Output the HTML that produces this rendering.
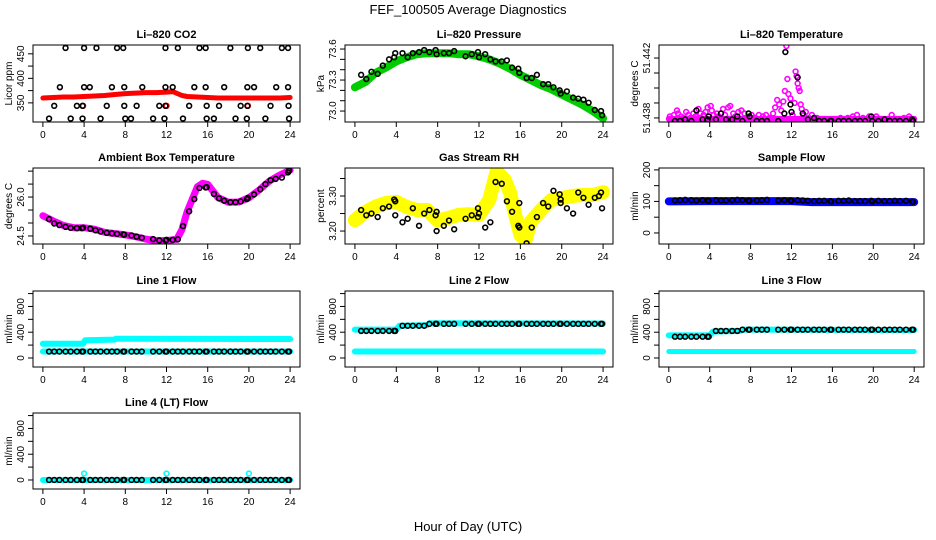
<!DOCTYPE html>
<html><head><meta charset="utf-8"><style>
body{margin:0;background:#fff}
svg{display:block;font-family:"Liberation Sans",sans-serif}
</style></head><body>
<svg id="chart" width="936" height="540" viewBox="0 0 936 540" xmlns="http://www.w3.org/2000/svg">
<rect width="936" height="540" fill="#fff"/>
<text x="468" y="14" text-anchor="middle" font-size="13">FEF_100505  Average Diagnostics</text>
<text x="468" y="531" text-anchor="middle" font-size="13">Hour of Day (UTC)</text>
</svg>
<script>
// ---- shared data ----
const xTicks = [0,4,8,12,16,20,24];
const blkHours = [0.6,1.1,1.6,2.2,2.7,3.3,3.8,3.9,4.6,5.1,5.6,6.2,6.7,7.2,7.8,7.9,8.6,9.1,9.6,10.7,11.3,11.9,12.0,12.6,13.1,13.6,14.2,14.7,15.2,15.8,15.9,16.6,17.1,17.6,18.2,18.7,19.2,19.8,19.9,20.5,21.1,21.6,22.1,22.6,23.2,23.8,23.9];

// CO2
const co2LineH = [0,1,2,3,4,5,6,7,8,9,10,11,12,12.6,13.5,14,15,16,17,18,19,20,21,22,23,24];
const co2LineV = [360,361,362,362,363,364,365,367,369,370,371,371,372,373,365,363,362,361,360,360,360,360,360,360,360,361];
const co2BlkH = [2.2,4.0,5.2,7.2,7.8,11.9,13.1,15.2,15.8,18.2,19.9,21.1,23.2,23.8,
 1.65,4.0,4.55,6.7,7.9,9.65,11.9,12.6,14.7,15.8,17.6,19.85,20.5,22.65,23.8,
 1.1,3.3,3.85,6.2,7.9,9.1,11.3,11.9,14.2,15.9,17.1,19.2,19.85,22.1,23.85,
 0.6,2.7,3.85,5.6,8.0,8.55,10.7,11.8,13.6,15.9,16.6,18.7,19.8,21.6,23.9];
const co2BlkV = [462,462,462,462,462,462,462,462,462,462,462,462,462,462,
 382,382,382,382,382,382,382,382,382,382,382,382,382,382,382,
 344,344,344,344,344,344,344,344,344,344,344,344,344,344,344,
 318,318,318,318,318,318,318,318,318,318,318,318,318,318,318];
const co2RedPtsH = [3.9,12.0,19.9];
const co2RedPtsV = [344,344,344];

// Pressure
const presLineH = [0,1,2,3,4,5,6,7,8,9,10,11,12,13,14,15,16,17,18,19,20,21,22,23,24];
const presLineV = [73.23,73.28,73.37,73.42,73.48,73.52,73.55,73.56,73.56,73.56,73.55,73.55,73.53,73.5,73.46,73.41,73.35,73.3,73.25,73.21,73.16,73.11,73.06,73.0,72.93];
const presBlkV = [73.35,73.31,73.38,73.36,73.44,73.5,73.52,73.56,73.56,73.52,73.56,73.57,73.59,73.57,73.59,73.55,73.56,73.56,73.58,73.53,73.55,73.57,73.52,73.55,73.5,73.48,73.48,73.49,73.42,73.41,73.37,73.32,73.32,73.35,73.26,73.26,73.23,73.2,73.17,73.19,73.13,73.12,73.11,73.08,73.01,73.0,72.96];

// Li-820 temperature
const tempMagH = [0.1,0.3,0.5,0.8,0.9,1.2,1.4,1.7,1.9,2.1,2.4,2.6,2.9,3.1,3.4,3.6,3.8,4.1,4.2,4.4,4.7,4.9,5.3,5.5,5.8,6.0,6.3,6.5,6.8,7.1,7.4,7.6,8.1,8.4,8.8,9.2,9.5,9.9,10.2,10.4,10.6,10.8,11.0,11.2,11.35,11.5,11.6,11.7,11.9,12.1,12.3,12.4,12.5,12.6,12.7,12.8,12.9,13.0,13.2,13.4,13.7,14.0,14.5,15.0,16.0,16.8,17.5,18.0,18.4,19.0,19.6,20.3,21.0,21.8,22.5,23.0,23.5,23.9];
const tempMagV = [51.4381,51.4379,51.4382,51.4385,51.4383,51.4381,51.4380,51.4384,51.4382,51.4380,51.4383,51.4381,51.4386,51.4383,51.4382,51.4384,51.4387,51.4388,51.4385,51.4382,51.4383,51.4381,51.4386,51.4382,51.4387,51.4388,51.4383,51.4381,51.4384,51.4385,51.4383,51.4380,51.4382,51.4380,51.4382,51.4381,51.4382,51.4380,51.4383,51.4387,51.4392,51.4389,51.4385,51.4391,51.4398,51.4428,51.4406,51.4396,51.4393,51.4382,51.4390,51.4411,51.4408,51.4403,51.4400,51.4398,51.4389,51.4386,51.4382,51.4384,51.4380,51.4382,51.4380,51.4379,51.4379,51.4380,51.4380,51.4381,51.4382,51.4380,51.4381,51.4381,51.4379,51.4382,51.4379,51.4380,51.4381,51.4379];
const tempBandH = [0,24];
const tempBandV = [51.43794,51.43794];
const tempBlkH = blkHours.concat([11.4]);
const tempBlkV = [51.4378,51.4378,51.4379,51.4378,51.4385,51.4379,51.4379,51.4381,51.4379,51.4383,51.4379,51.4379,51.4381,51.4378,51.4383,51.4381,51.4378,51.4378,51.4378,51.4378,51.4383,51.4389,51.4384,51.4407,51.4383,51.4379,51.4380,51.4378,51.4378,51.4378,51.4378,51.4378,51.4378,51.4378,51.4378,51.4378,51.4378,51.4381,51.4378,51.4378,51.4379,51.4378,51.4378,51.4378,51.4378,51.4379,51.4378,51.4424];

// Ambient box temperature
const ambLineH = [0,1,2,3,4,5,6,7,8,9,10,11,12,13,13.5,14,15,15.5,16,17,18,19,20,21,22,23,24];
const ambLineV = [25.28,25.08,24.9,24.82,24.82,24.76,24.64,24.59,24.54,24.47,24.38,24.32,24.32,24.37,24.75,25.43,26.4,26.53,26.49,25.98,25.8,25.81,25.97,26.27,26.62,26.85,27.04];
const ambBlkV = [25.15,24.98,24.92,24.85,24.81,24.8,24.8,24.82,24.78,24.72,24.67,24.62,24.6,24.58,24.56,24.55,24.52,24.47,24.43,24.38,24.33,24.33,24.35,24.35,24.37,24.88,25.45,25.92,26.35,26.37,26.38,26.12,25.95,25.86,25.8,25.8,25.83,25.92,25.97,26.1,26.3,26.5,26.65,26.7,26.75,26.95,27.02];

// Gas stream RH
const rhLineH = [0,1,2,3,4,5,6,7,8,9,10,11,12,13,13.7,14.5,15,15.5,16,16.5,17,18,19,20,21,22,23,24];
const rhLineV = [3.231,3.254,3.27,3.28,3.283,3.269,3.26,3.26,3.23,3.237,3.246,3.248,3.246,3.289,3.37,3.346,3.31,3.246,3.189,3.174,3.226,3.26,3.289,3.294,3.3,3.303,3.303,3.311];
const rhBlkH = [0.6,1.1,1.6,2.2,2.7,3.3,3.8,3.9,3.9,4.6,5.1,5.6,6.2,6.7,7.2,7.8,7.9,7.9,8.6,9.1,9.6,10.7,11.3,11.9,11.9,12.0,12.6,13.1,13.6,14.2,14.7,15.2,15.8,15.9,15.9,16.6,17.1,17.6,18.2,18.7,19.2,19.8,19.9,19.9,20.5,21.1,21.6,22.1,22.6,23.2,23.6,23.8,23.9];
const rhBlkV = [3.26,3.245,3.25,3.24,3.265,3.27,3.29,3.285,3.245,3.225,3.235,3.265,3.215,3.25,3.26,3.245,3.255,3.2,3.215,3.23,3.205,3.235,3.245,3.24,3.265,3.25,3.21,3.225,3.34,3.335,3.285,3.255,3.215,3.21,3.28,3.165,3.21,3.24,3.28,3.27,3.315,3.305,3.29,3.28,3.265,3.25,3.31,3.295,3.275,3.295,3.3,3.31,3.265];

// Sample flow
const sfLineH = [0,4,8,12,14,16,18,20,24];
const sfLineV = [100,101,101,101,98,98,98,98,98];
const sfBlkV = [103,104,105,104,103,104,103,102,104,103,103,104,105,104,103,102,103,104,105,103,104,103,102,104,103,102,101,102,102,101,100,102,102,103,101,101,101,102,100,102,101,101,102,101,102,100,99];

// Line flows
const l1UpH = [0,3.9,4.1,6.9,7.1,24];
const l1UpV = [220,222,275,285,300,295];
const lowH = [0,24];
const lowV = [100,100];
const l1BlkV = [100,100,100,100,100,100,100,100,100,100,100,100,100,100,100,100,100,100,100,100,100,100,100,100,100,100,100,100,100,100,100,100,100,100,100,100,100,100,100,100,100,100,100,100,100,100,100];
const l2UpH = [0,4,4.3,7,7.2,24];
const l2UpV = [440,440,500,510,540,535];
const l2BlkV = [420,420,420,420,420,420,420,420,500,500,500,500,500,530,530,530,530,530,530,530,530,530,530,530,530,530,530,530,530,530,530,530,530,530,530,530,530,530,530,530,530,530,530,530,530,530,530];
const l3UpH = [0,4,4.3,7,7.3,24];
const l3UpV = [350,350,410,420,440,435];
const l3BlkV = [330,330,330,330,330,330,330,330,420,420,420,420,420,440,440,440,440,440,440,440,440,440,440,440,440,440,440,440,440,440,440,440,440,440,440,440,440,440,440,440,440,440,440,440,440,440,440];
const l4LineH = [0,24];
const l4LineV = [0,0];
const l4BlkV = [0,0,0,0,0,0,0,0,0,0,0,0,0,0,0,0,0,0,0,0,0,0,0,0,0,0,0,0,0,0,0,0,0,0,0,0,0,0,0,0,0,0,0,0,0,0,0];
const l4CyanH = [4,12,20];
const l4CyanV = [100,100,100];

// ---- drawing ----
const NS = "http://www.w3.org/2000/svg";
const svg = document.getElementById("chart");
const colL = [33,345,659], colR = [300,613,924];
const rowT = [45,168,291,413], rowB = [122,244,367,489];
function mk(tag, attrs, parent){ const e=document.createElementNS(NS,tag); for(const k in attrs) e.setAttribute(k,attrs[k]); (parent||svg).appendChild(e); return e; }

function panel(slug, row, col, title, ylab, ymin, ymax, yticks, ylabels){
  const g = mk("g",{});
  
  
  const L=colL[col], R=colR[col], T=rowT[row], B=rowB[row];
  const xmin=-0.96, xmax=24.96;
  const sx = h => L + (h-xmin)/(xmax-xmin)*(R-L);
  const sy = v => B - (v-ymin)/(ymax-ymin)*(B-T);
  const clipId = 'clip-'+slug;
  const cp = mk("clipPath",{id:clipId},g); mk("rect",{x:L,y:T,width:R-L,height:B-T},cp);
  const plot = mk("g",{"clip-path":"url(#"+clipId+")"},g);
  
  
  const box = mk("rect",{x:L,y:T,width:R-L,height:B-T,fill:"none",stroke:"#000","stroke-width":1},g);
  
  
  const t = mk("text",{x:(L+R)/2,y:T-7,"text-anchor":"middle","font-size":11,"font-weight":"bold"},g);
  t.textContent = title;
  
  
  const xa = mk("g",{stroke:"#000","stroke-width":1},g);
  
  
  mk("line",{x1:sx(xTicks[0]),x2:sx(xTicks[xTicks.length-1]),y1:B,y2:B},xa);
  xTicks.forEach(v=>{
    mk("line",{x1:sx(v),x2:sx(v),y1:B,y2:B+5},xa);
    const tl = mk("text",{x:sx(v),y:B+16,"text-anchor":"middle","font-size":10,stroke:"none",fill:"#000"},xa);
    tl.textContent = v;
    
    
  });
  const ya = mk("g",{stroke:"#000","stroke-width":1},g);
  
  
  mk("line",{x1:L,x2:L,y1:sy(yticks[0]),y2:sy(yticks[yticks.length-1])},ya);
  yticks.forEach((v,i)=>{
    const y=sy(v);
    mk("line",{x1:L-5,x2:L,y1:y,y2:y},ya);
    if(ylabels[i]!==""){
      const tl = mk("text",{x:L-9,y:y,"text-anchor":"middle","font-size":10,stroke:"none",fill:"#000",transform:"rotate(-90 "+(L-9)+" "+y+")"},ya);
      tl.textContent = ylabels[i];
      
      
    }
  });
  const yl = mk("text",{x:L-21,y:(T+B)/2,"text-anchor":"middle","font-size":10,transform:"rotate(-90 "+(L-21)+" "+((T+B)/2)+")"},g);
  yl.textContent = ylab;
  
  
  return {sx,sy,plot};
}
function band(p, hs, vs, color, w, name){
  const n=Math.min(hs.length,vs.length);
  const pts=[]; for(let i=0;i<n;i++) pts.push(p.sx(hs[i]).toFixed(1)+","+p.sy(vs[i]).toFixed(1));
  const pl = mk("polyline",{points:pts.join(" "),fill:"none",stroke:color,"stroke-width":w,"stroke-linejoin":"round","stroke-linecap":"round"},p.plot);
  
  
}
function pts(p, hs, vs, color, name, r){
  const n=Math.min(hs.length,vs.length);
  const g = mk("g",{fill:"none",stroke:color,"stroke-width":1.6},p.plot);
  
  
  for(let i=0;i<n;i++){
    const c = mk("circle",{cx:p.sx(hs[i]),cy:p.sy(vs[i]),r:r||2.4},g);
    
    
  }
}
const flowTicks=[0,200,400,600,800,1000], flowLabels=["0","","400","","800",""];

let p;
p = panel("co2",0,0,"Li\u2013820 CO2","Licor ppm",311,468,[350,375,400,425,450],["350","","400","","450"]);
band(p,co2LineH,co2LineV,"#ff0000",5,"co2-red-series");
pts(p,co2RedPtsH,co2RedPtsV,"#ff0000","co2-red-points");
pts(p,co2BlkH,co2BlkV,"#000","co2-black-points");

p = panel("pressure",0,1,"Li\u2013820 Pressure","kPa",72.894,73.639,[73.0,73.1,73.2,73.3,73.4,73.5,73.6],["73.0","","","73.3","","","73.6"]);
band(p,presLineH,presLineV,"#00cc00",8,"pressure-green-series");
pts(p,blkHours,presBlkV,"#000","pressure-black-points");

p = panel("li820-temp",0,2,"Li\u2013820 Temperature","degrees C",51.43773,51.44287,[51.438,51.439,51.440,51.441,51.442],["51.438","","","","51.442"]);
band(p,tempBandH,tempBandV,"#ff00ff",6,"temp-magenta-band");
pts(p,tempMagH,tempMagV,"#ff00ff","temp-magenta-points");
pts(p,tempBlkH,tempBlkV,"#000","temp-black-points");

p = panel("ambient",1,0,"Ambient Box Temperature","degrees C",24.19,27.12,[24.5,25.0,25.5,26.0,26.5,27.0],["24.5","","","26.0","",""]);
band(p,ambLineH,ambLineV,"#ff00ff",7,"ambient-magenta-series");
pts(p,blkHours,ambBlkV,"#000","ambient-black-points");

p = panel("gas-rh",1,1,"Gas Stream RH","percent",3.163,3.38,[3.20,3.25,3.30,3.35],["3.20","","3.30",""]);
band(p,rhLineH,rhLineV,"#ffff00",14,"rh-yellow-series");
pts(p,rhBlkH,rhBlkV,"#000","rh-black-points");

p = panel("sample-flow",1,2,"Sample Flow","ml/min",-35,206,[0,50,100,150,200],["0","","100","","200"]);
band(p,sfLineH,sfLineV,"#0000ff",8,"sample-flow-blue-series");
pts(p,blkHours,sfBlkV,"#000","sample-flow-black-points");

p = panel("line1-flow",2,0,"Line 1 Flow","ml/min",-140,1040,flowTicks,flowLabels);
band(p,l1UpH,l1UpV,"#00ffff",6,"line1-cyan-upper");
band(p,lowH,lowV,"#00ffff",6,"line1-cyan-lower");
pts(p,blkHours,l1BlkV,"#000","line1-black-points");

p = panel("line2-flow",2,1,"Line 2 Flow","ml/min",-140,1040,flowTicks,flowLabels);
band(p,l2UpH,l2UpV,"#00ffff",6,"line2-cyan-upper");
band(p,lowH,lowV,"#00ffff",6,"line2-cyan-lower");
pts(p,blkHours,l2BlkV,"#000","line2-black-points");

p = panel("line3-flow",2,2,"Line 3 Flow","ml/min",-140,1040,flowTicks,flowLabels);
band(p,l3UpH,l3UpV,"#00ffff",6,"line3-cyan-upper");
band(p,lowH,lowV,"#00ffff",5,"line3-cyan-lower");
pts(p,blkHours,l3BlkV,"#000","line3-black-points");

p = panel("line4-flow",3,0,"Line 4 (LT) Flow","ml/min",-140,1040,flowTicks,flowLabels);
band(p,l4LineH,l4LineV,"#00ffff",6,"line4-cyan-series");
pts(p,l4CyanH,l4CyanV,"#00ffff","line4-cyan-points");
pts(p,blkHours,l4BlkV,"#000","line4-black-points");
</script>
</body></html>
